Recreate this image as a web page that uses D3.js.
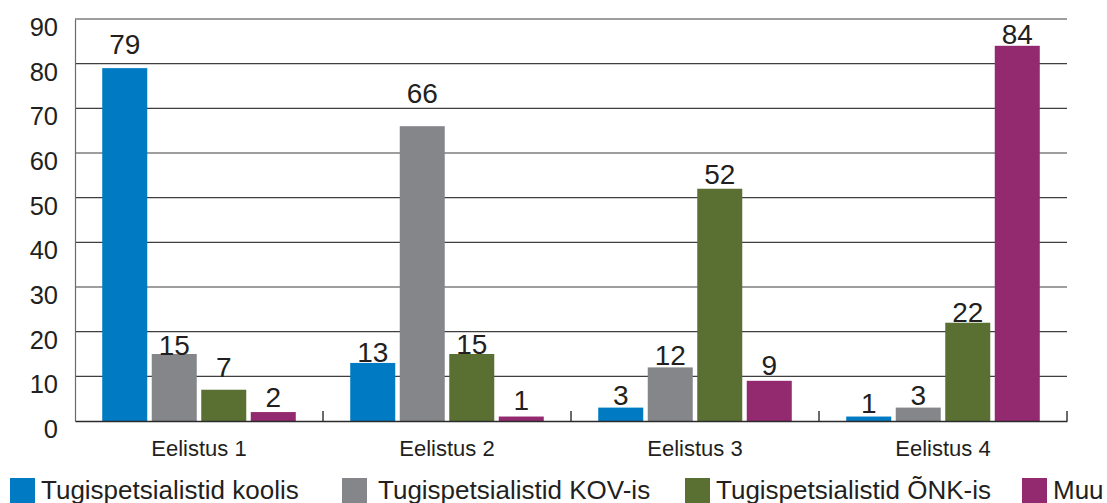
<!DOCTYPE html>
<html>
<head>
<meta charset="utf-8">
<script src="https://cdn.jsdelivr.net/npm/d3@7"></script>
<style>
  body { margin: 0; background: #fff; }
  text { font-family: "Liberation Sans", Arial, Helvetica, sans-serif; fill: #231f20; }
</style>
</head>
<body>
<script>
const w = 1107;
const h = 503;

// data
const categories = ["Eelistus 1", "Eelistus 2", "Eelistus 3", "Eelistus 4"];
const seriesNames = ["Tugispetsialistid koolis", "Tugispetsialistid KOV-is", "Tugispetsialistid ÕNK-is", "Muu"];
const koolis = [79, 13, 3, 1];
const kov = [15, 66, 12, 3];
const onk = [7, 15, 52, 22];
const muu = [2, 1, 9, 84];
const yTicks = [0, 10, 20, 30, 40, 50, 60, 70, 80, 90];

// look
const colors = ["#007ac2", "#85868a", "#5a7033", "#93296e"];
// how far each value label sits above its bar (px), per series
const labelLift = [[14, 1, 3, 4], [-1, 23, 2, 3], [13, 0, 5, 1], [5, 7, 6, 2]];
const legendX = [10, 342, 685, 1022];

const values = [koolis, kov, onk, muu];
const plotL = 75, plotR = 1067, plotT = 19, plotB = 421;

const svg = d3.select("body")
              .append("svg")
              .attr("width", w)
              .attr("height", h);

const x0 = d3.scaleBand().domain(categories).range([plotL, plotR]).padding(0);
const x1 = d3.scaleBand().domain(d3.range(seriesNames.length))
             .range([0, x0.bandwidth()]).paddingInner(0.091).paddingOuter(0.55);
const y = d3.scaleLinear().domain([0, 90]).range([plotB, plotT]);

// gridlines
svg.append("g")
   .selectAll("line")
   .data(yTicks.filter(d => d > 0))
   .enter()
   .append("line")
   .attr("x1", plotL)
   .attr("x2", plotR)
   .attr("y1", d => y(d))
   .attr("y2", d => y(d))
   .style("stroke", "#3f3f3f")
   .style("stroke-width", 1.2);

// y axis
const yAxis = svg.append("g")
   .attr("transform", `translate(${plotL},0)`)
   .call(d3.axisLeft(y).tickValues(yTicks).tickSize(0).tickPadding(17));
yAxis.select(".domain").style("stroke", "#6b6b6b").style("stroke-width", 1.2);
yAxis.selectAll("text")
     .style("font-size", "25.5px")
     .attr("dy", "0.65em")
     .style("fill", "#231f20");

// bars
values.forEach((vals, s) => {
  svg.append("g")
     .selectAll("rect")
     .data(vals)
     .enter()
     .append("rect")
     .attr("x", (d, i) => x0(categories[i]) + x1(s))
     .attr("y", d => y(d))
     .attr("width", x1.bandwidth())
     .attr("height", d => y(0) - y(d))
     .style("fill", colors[s]);

  svg.append("g")
     .selectAll("text")
     .data(vals)
     .enter()
     .append("text")
     .attr("x", (d, i) => x0(categories[i]) + x1(s) + x1.bandwidth() / 2)
     .attr("y", (d, i) => y(d) - labelLift[s][i])
     .attr("text-anchor", "middle")
     .style("font-size", "28px")
     .text(d => d);
});

// x axis
const xAxis = svg.append("g")
   .attr("transform", `translate(0,${plotB})`)
   .call(d3.axisBottom(x0).tickSize(0).tickPadding(19));
xAxis.select(".domain").style("stroke", "#2b2b2b").style("stroke-width", 1.6);
xAxis.selectAll("text").style("font-size", "22px").style("fill", "#231f20");

// upward ticks at group boundaries
svg.append("g")
   .selectAll("line")
   .data(categories.slice(1).concat(["end"]))
   .enter()
   .append("line")
   .attr("x1", d => d === "end" ? plotR : x0(d))
   .attr("x2", d => d === "end" ? plotR : x0(d))
   .attr("y1", plotB)
   .attr("y2", plotB - 10)
   .style("stroke", "#2b2b2b")
   .style("stroke-width", 1.4);

// legend
const legend = svg.append("g")
   .selectAll("g")
   .data(seriesNames)
   .enter()
   .append("g")
   .attr("transform", (d, i) => `translate(${legendX[i]},478)`);
legend.append("rect")
      .attr("width", 25)
      .attr("height", 25)
      .style("fill", (d, i) => colors[i]);
legend.append("text")
      .attr("x", (d, i) => i === 1 ? 36 : 31)
      .attr("y", 21)
      .style("font-size", "26px")
      .text(d => d);
</script>
</body>
</html>
